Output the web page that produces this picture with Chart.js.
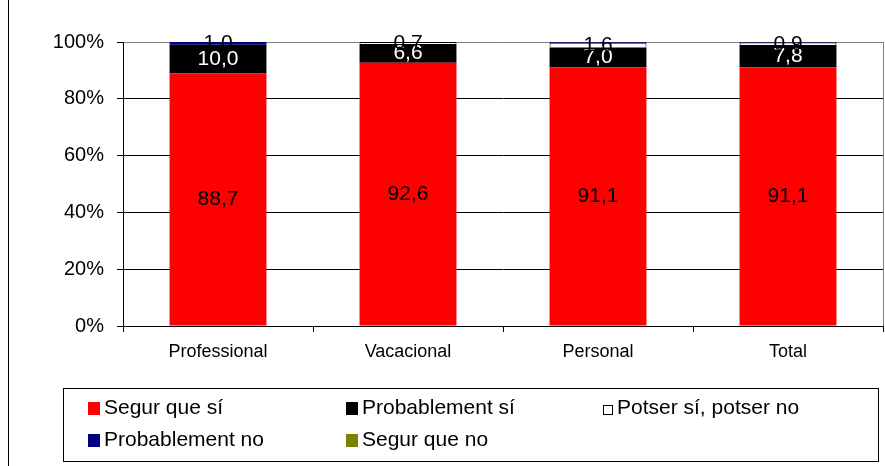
<!DOCTYPE html>
<html>
<head>
<meta charset="utf-8">
<script src="https://cdn.jsdelivr.net/npm/chart.js@4"></script>
<style>
  body { margin: 0; background: #fff; }
  canvas { display: block; }
</style>
</head>
<body>
<canvas id="chart" width="885" height="466"></canvas>
<script>
const categories = ['Professional', 'Vacacional', 'Personal', 'Total'];
const segurSi = [88.7, 92.6, 91.1, 91.1];
const probableSi = [10.0, 6.6, 7.0, 7.8];
const potser = [0, 0.7, 1.6, 0.9];
const probableNo = [1.0, 0, 0.3, 0.2];
const segurNo = [0, 0, 0, 0];
const yTicks = [0, 20, 40, 60, 80, 100];

const seriesList = [
  { label: 'Segur que sí', values: segurSi, color: '#ff0000', text: '#000' },
  { label: 'Probablement sí', values: probableSi, color: '#000000', text: '#fff' },
  { label: 'Potser sí, potser no', values: potser, color: '#ffffff', text: '#000', border: '#000' },
  { label: 'Probablement no', values: probableNo, color: '#000080', text: '#000' },
  { label: 'Segur que no', values: segurNo, color: '#808000', text: '#000' }
];

// 100% stacked: each column scaled to its own total
const totals = categories.map((_, i) => seriesList.reduce((s, d) => s + d.values[i], 0));

const FONT = '"Liberation Sans", Arial, sans-serif';

// value labels on the segments
const labelPlugin = {
  id: 'segLabels',
  afterDatasetsDraw(chart) {
    const ctx = chart.ctx;
    ctx.save();
    ctx.font = '21px ' + FONT;
    ctx.textAlign = 'center';
    ctx.textBaseline = 'middle';
    chart.data.datasets.forEach((ds, di) => {
      const meta = chart.getDatasetMeta(di);
      meta.data.forEach((bar, i) => {
        const raw = seriesList[di].values[i];
        if (raw < 0.5) return;
        ctx.fillStyle = seriesList[di].text;
        ctx.fillText(raw.toFixed(1).replace('.', ','), bar.x, (bar.y + bar.base) / 2);
      });
    });
    ctx.restore();
  }
};

// frame lines + legend box laid out in columns
const framePlugin = {
  id: 'frame',
  afterDraw(chart) {
    const ctx = chart.ctx;
    const a = chart.chartArea;
    ctx.save();
    ctx.strokeStyle = '#000';
    ctx.lineWidth = 1;
    ctx.beginPath();
    ctx.moveTo(8.5, 0);
    ctx.lineTo(8.5, 466);
    ctx.stroke();

    ctx.strokeStyle = '#808080';
    ctx.beginPath();
    ctx.moveTo(Math.round(a.right) + 0.5, a.top);
    ctx.lineTo(Math.round(a.right) + 0.5, a.bottom);
    ctx.stroke();

    // legend
    ctx.strokeStyle = '#000';
    ctx.strokeRect(63.5, 388.5, 815, 73);
    const cols = [88, 346, 603];
    const rows = [408, 440];
    ctx.font = '21px ' + FONT;
    ctx.textBaseline = 'middle';
    ctx.textAlign = 'left';
    seriesList.forEach((s, i) => {
      const x = cols[i % 3];
      const y = rows[Math.floor(i / 3)];
      if (s.border) {
        ctx.fillStyle = s.color;
        ctx.fillRect(x, y - 3, 10, 10);
        ctx.strokeStyle = s.border;
        ctx.strokeRect(x + 0.5, y - 2.5, 9, 9);
      } else {
        ctx.fillStyle = s.color;
        ctx.fillRect(x, y - 6, 12, 13);
      }
      ctx.fillStyle = '#000';
      ctx.fillText(s.label, x + (s.border ? 14 : 16), y);
    });
    ctx.restore();
  }
};

new Chart(document.getElementById('chart'), {
  type: 'bar',
  data: {
    labels: categories,
    datasets: seriesList.map(s => ({
      label: s.label,
      data: s.values.map((v, i) => v / totals[i] * 100),
      backgroundColor: s.color,
      borderColor: s.border || s.color,
      borderWidth: s.border ? 1 : 0,
      barPercentage: 0.51,
      categoryPercentage: 1
    }))
  },
  options: {
    responsive: false,
    animation: false,
    layout: { padding: { top: 42, right: 2, bottom: 80, left: 0 } },
    plugins: {
      legend: { display: false },
      tooltip: { enabled: false }
    },
    scales: {
      x: {
        stacked: true,
        afterFit: s => { s.height = 60; },
        border: { color: '#000' },
        grid: { drawOnChartArea: false, drawTicks: true, tickLength: 6, color: '#000' },
        ticks: { color: '#000', font: { family: FONT, size: 18 }, padding: 9 }
      },
      y: {
        stacked: true,
        min: 0,
        max: 100,
        afterFit: s => { s.width = 123; },
        afterBuildTicks: s => { s.ticks = yTicks.map(v => ({ value: v })); },
        border: { color: '#000' },
        grid: {
          color: c => (c.tick && c.tick.value === 100 ? '#808080' : '#000'),
          tickColor: '#000',
          tickLength: 6
        },
        ticks: {
          color: '#000',
          font: { family: FONT, size: 20 },
          padding: 13,
          callback: v => v + '%'
        }
      }
    }
  },
  plugins: [labelPlugin, framePlugin]
});
</script>
</body>
</html>
